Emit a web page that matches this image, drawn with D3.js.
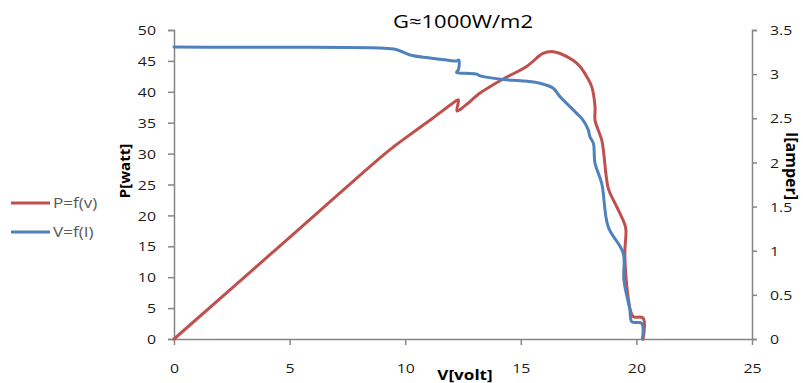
<!DOCTYPE html>
<html><head><meta charset="utf-8">
<script src="https://cdn.jsdelivr.net/npm/d3@7"></script>
<style>body{margin:0;background:#fff} svg{display:block} text{font-family:"Open Sans",sans-serif}</style>
</head><body><svg id="c" width="803" height="383"></svg>
<script>
const titleText = "G≈1000W/m2";
const xTicks = [0, 5, 10, 15, 20, 25];
const pTicks = [0, 5, 10, 15, 20, 25, 30, 35, 40, 45, 50];
const iTicks = [0, 0.5, 1, 1.5, 2, 2.5, 3, 3.5];
const seriesNames = ["P=f(v)", "V=f(I)"];

// P = f(V)
const powerV = [0, 4.5, 9.0, 9.5, 10.0, 11.07, 12.0, 12.30, 12.24, 12.6, 13.24, 14.2, 15.25, 15.96, 16.39, 16.70, 17.26, 17.56, 17.86, 18.07, 18.21, 18.21, 18.35, 18.5, 18.57, 18.78, 19.0, 19.15, 19.51, 19.55, 19.5, 19.55, 19.65, 19.75, 19.87, 20.29, 20.29];
const powerP = [0, 14.8, 29.6, 31.1, 32.5, 35.4, 38.0, 38.7, 36.9, 37.8, 39.8, 42.0, 44.1, 46.2, 46.5, 46.2, 45.1, 44.1, 42.4, 40.8, 37.6, 35.4, 33.8, 32.2, 30.6, 24.4, 22.5, 21.4, 18.4, 17.5, 14.0, 10.0, 6.5, 4.5, 3.6, 3.4, 0];

// I = f(V)
const currentV = [0, 2.5, 5.0, 8.91, 9.6, 10.21, 11.0, 11.79, 12.22, 12.32, 12.3, 12.22, 12.6, 13.1, 13.24, 14.23, 15.0, 15.83, 16.39, 16.70, 17.42, 17.69, 17.92, 17.99, 18.14, 18.21, 18.5, 18.78, 19.43, 19.46, 19.72, 19.80, 20.23, 20.26];
const currentI = [3.307, 3.305, 3.305, 3.296, 3.28, 3.217, 3.185, 3.16, 3.15, 3.16, 3.05, 3.02, 3.01, 3.0, 2.98, 2.94, 2.925, 2.896, 2.843, 2.744, 2.556, 2.48, 2.367, 2.29, 2.216, 1.99, 1.763, 1.272, 0.971, 0.668, 0.328, 0.196, 0.178, 0];

const S = 1.22; // horizontal text stretch
const red = "#C0504D", blue = "#4F81BD", axisCol = "#868686";

const svg = d3.select("#c");
const x = d3.scaleLinear().domain([0, 25]).range([174, 752]);
const yP = d3.scaleLinear().domain([0, 50]).range([339, 30]);
const yI = d3.scaleLinear().domain([0, 3.5]).range([339, 30]);

function styleAxis(g) {
  g.select(".domain").attr("stroke", axisCol).attr("stroke-width", 1.5);
  g.selectAll(".tick line").attr("stroke", axisCol).attr("stroke-width", 1.5);
  g.selectAll(".tick text").attr("fill", "#1a1a1a").style("font-size", "13px");
}

const gx = svg.append("g").attr("transform", "translate(0,339)")
  .call(d3.axisBottom(x).tickValues(xTicks).tickSize(6).tickSizeOuter(0).tickFormat(d3.format("d")));
styleAxis(gx);
gx.selectAll(".tick text").attr("y", 34).attr("dy", 0)
  .attr("transform", `scale(${S},1)`);

const gl = svg.append("g").attr("transform", "translate(174,0)")
  .call(d3.axisLeft(yP).tickValues(pTicks).tickSize(6).tickSizeOuter(6).tickFormat(d3.format("d")));
styleAxis(gl);
gl.selectAll(".tick text").attr("x", 0).attr("dy", "0.36em")
  .attr("transform", `translate(-18,0) scale(${S},1)`);

const gr = svg.append("g").attr("transform", "translate(752,0)")
  .call(d3.axisRight(yI).tickValues(iTicks).tickSize(5).tickSizeOuter(5).tickFormat(d => String(d)));
styleAxis(gr);
gr.selectAll(".tick text").attr("x", 0).attr("dy", "0.36em")
  .attr("transform", `translate(18,0) scale(${S},1)`);

// lines
const pData = powerV.map((v, i) => [v, powerP[i]]);
const iData = currentV.map((v, i) => [v, currentI[i]]);
const curve = d3.curveCatmullRom.alpha(0.5);
svg.append("path").datum(pData)
  .attr("d", d3.line().x(d => x(d[0])).y(d => yP(d[1])).curve(curve))
  .attr("fill", "none").attr("stroke", red).attr("stroke-width", 3)
  .attr("stroke-linejoin", "round").attr("stroke-linecap", "round");
svg.append("path").datum(iData)
  .attr("d", d3.line().x(d => x(d[0])).y(d => yI(d[1])).curve(curve))
  .attr("fill", "none").attr("stroke", blue).attr("stroke-width", 3)
  .attr("stroke-linejoin", "round").attr("stroke-linecap", "round");

// title
svg.append("text").attr("transform", `translate(463,28) scale(${S},1)`)
  .attr("text-anchor", "middle").style("font-size", "18px").attr("fill", "#000").text(titleText);

// axis titles
svg.append("text").attr("transform", `translate(465,380) scale(${S},1)`)
  .attr("text-anchor", "middle").style("font-size", "14px").style("font-weight", "bold")
  .attr("fill", "#000").text("V[volt]");
svg.append("text").attr("transform", "translate(130,171) rotate(-90)")
  .attr("text-anchor", "middle").style("font-size", "15px").style("font-weight", "bold")
  .attr("fill", "#000").text("P[watt]");
svg.append("text").attr("transform", "translate(786,166) rotate(90)")
  .attr("text-anchor", "middle").style("font-size", "16px").style("font-weight", "bold")
  .attr("fill", "#000").text("I[amper]");

// legend
const legend = svg.append("g");
[red, blue].forEach((c, i) => {
  const yy = 203 + i * 29;
  legend.append("line").attr("x1", 11).attr("x2", 50).attr("y1", yy).attr("y2", yy)
    .attr("stroke", c).attr("stroke-width", 3);
  legend.append("text").attr("transform", `translate(53,${yy}) scale(${S},1)`)
    .attr("dy", "0.36em").style("font-size", "14px").attr("fill", "#595959").text(seriesNames[i]);
});
</script></body></html>
